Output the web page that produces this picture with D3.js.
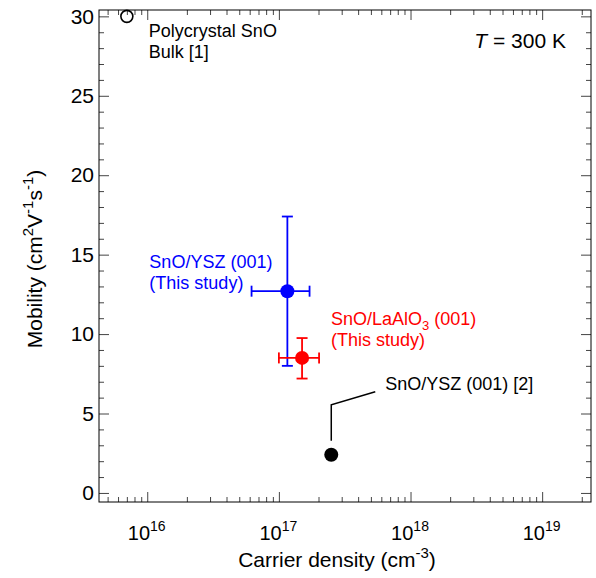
<!DOCTYPE html>
<html>
<head>
<meta charset="utf-8">
<script src="https://cdn.jsdelivr.net/npm/d3@7"></script>
<style>
  body { margin: 0; background: #fff; }
  text { font-family: "Liberation Sans", Arial, sans-serif; }
</style>
</head>
<body>
<div id="chart"></div>
<script>
// data
var samples = ["Polycrystal SnO Bulk [1]", "SnO/YSZ (001) (This study)", "SnO/LaAlO3 (001) (This study)", "SnO/YSZ (001) [2]"];
var density = [7e15, 1.16e17, 1.5e17, 2.5e17];
var mobility = [30, 12.7, 8.5, 2.4];
var densityLo = [null, 6.2e16, 1.0e17, null];
var densityHi = [null, 1.71e17, 2.02e17, null];
var mobilityLo = [null, 8.0, 7.2, null];
var mobilityHi = [null, 17.4, 9.75, null];
var colors = ["#000", "#0000ff", "#ff0000", "#000"];
var filled = [false, true, true, true];

var xMajor = [1e16, 1e17, 1e18, 1e19];
var xExp = ["16", "17", "18", "19"];
var yMajor = [0, 5, 10, 15, 20, 25, 30];

var width = 596, height = 578;
var margin = {top: 10, right: 5, bottom: 76, left: 99};

var svg = d3.select("#chart").append("svg")
	.attr("width", width)
	.attr("height", height);

var x = d3.scaleLog()
	.domain([4.3e15, 2.35e19])
	.range([margin.left, width - margin.right]);

var y = d3.scaleLinear()
	.domain([-0.57, 30.4])
	.range([height - margin.bottom, margin.top]);

// minor ticks
var xMinor = [];
[1e15, 1e16, 1e17, 1e18, 1e19].forEach(function (d) {
	for (var k = 2; k <= 9; k++) {
		var v = d * k;
		if (v > x.domain()[0] && v < x.domain()[1]) xMinor.push(v);
	}
});
var yMinor = d3.range(0, 31).filter(d => d % 5 != 0);

var tickColor = "#444";

function styleAxis(g) {
	g.select(".domain").remove();
	g.selectAll(".tick line").attr("stroke", tickColor);
}

var x0 = height - margin.bottom, x1 = margin.top;

// bottom axis
svg.append("g")
	.attr("transform", "translate(0," + x0 + ")")
	.call(d3.axisBottom(x).tickValues(xMinor).tickSize(-5).tickFormat(""))
	.call(styleAxis);

var xAxisG = svg.append("g")
	.attr("transform", "translate(0," + x0 + ")")
	.call(d3.axisBottom(x).tickValues(xMajor).tickSize(-10).tickPadding(24).tickFormat(""))
	.call(styleAxis);

xAxisG.selectAll(".tick text")
	.attr("font-size", 20)
	.attr("fill", "#000")
	.attr("dx", "-1")
	.each(function (d, i) {
		var t = d3.select(this);
		t.append("tspan").text("10");
		t.append("tspan").attr("font-size", 14).attr("dy", "-9").text(xExp[i]);
	});

// top axis
svg.append("g")
	.attr("transform", "translate(0," + x1 + ")")
	.call(d3.axisTop(x).tickValues(xMinor).tickSize(-5).tickFormat(""))
	.call(styleAxis);
svg.append("g")
	.attr("transform", "translate(0," + x1 + ")")
	.call(d3.axisTop(x).tickValues(xMajor).tickSize(-10).tickFormat(""))
	.call(styleAxis);

// left axis
svg.append("g")
	.attr("transform", "translate(" + margin.left + ",0)")
	.call(d3.axisLeft(y).tickValues(yMinor).tickSize(-5).tickFormat(""))
	.call(styleAxis);
svg.append("g")
	.attr("transform", "translate(" + margin.left + ",0)")
	.call(d3.axisLeft(y).tickValues(yMajor).tickSize(-10).tickPadding(5).tickFormat(d3.format("d")))
	.call(styleAxis)
	.call(g => g.selectAll(".tick text").attr("font-size", 21).attr("fill", "#000"));

// right axis
svg.append("g")
	.attr("transform", "translate(" + (width - margin.right) + ",0)")
	.call(d3.axisRight(y).tickValues(yMinor).tickSize(-5).tickFormat(""))
	.call(styleAxis);
svg.append("g")
	.attr("transform", "translate(" + (width - margin.right) + ",0)")
	.call(d3.axisRight(y).tickValues(yMajor).tickSize(-10).tickFormat(""))
	.call(styleAxis);

// frame
svg.append("rect")
	.attr("x", margin.left)
	.attr("y", margin.top)
	.attr("width", width - margin.left - margin.right)
	.attr("height", height - margin.top - margin.bottom)
	.attr("fill", "none")
	.attr("stroke", "#000")
	.attr("stroke-width", 1);

// axis titles
var xt = svg.append("text")
	.attr("x", 337)
	.attr("y", 567)
	.attr("text-anchor", "middle")
	.attr("font-size", 21);
xt.append("tspan").text("Carrier density (cm");
xt.append("tspan").attr("font-size", 15).attr("dy", -9).text("-3");
xt.append("tspan").attr("dy", 9).text(")");

var yt = svg.append("text")
	.attr("transform", "translate(42,259) rotate(-90)")
	.attr("text-anchor", "middle")
	.attr("font-size", 21);
yt.append("tspan").text("Mobility (cm");
yt.append("tspan").attr("font-size", 15).attr("dy", -9).text("2");
yt.append("tspan").attr("dy", 9).text("V");
yt.append("tspan").attr("font-size", 15).attr("dy", -9).text("-1");
yt.append("tspan").attr("dy", 9).text("s");
yt.append("tspan").attr("font-size", 15).attr("dy", -9).text("-1");
yt.append("tspan").attr("dy", 9).text(")");

// error bars
var cap = 5.5;
var eb = svg.append("g").attr("stroke-width", 1.8);
samples.forEach(function (s, i) {
	if (densityLo[i] == null) return;
	var cx = x(density[i]), cy = y(mobility[i]);
	var g = eb.append("g").attr("stroke", colors[i]);
	g.append("line").attr("x1", x(densityLo[i])).attr("x2", x(densityHi[i])).attr("y1", cy).attr("y2", cy);
	g.append("line").attr("x1", x(densityLo[i])).attr("x2", x(densityLo[i])).attr("y1", cy - cap).attr("y2", cy + cap);
	g.append("line").attr("x1", x(densityHi[i])).attr("x2", x(densityHi[i])).attr("y1", cy - cap).attr("y2", cy + cap);
	g.append("line").attr("x1", cx).attr("x2", cx).attr("y1", y(mobilityLo[i])).attr("y2", y(mobilityHi[i]));
	g.append("line").attr("x1", cx - cap).attr("x2", cx + cap).attr("y1", y(mobilityLo[i])).attr("y2", y(mobilityLo[i]));
	g.append("line").attr("x1", cx - cap).attr("x2", cx + cap).attr("y1", y(mobilityHi[i])).attr("y2", y(mobilityHi[i]));
});

// points
svg.append("g")
	.selectAll("circle")
	.data(samples)
	.join("circle")
	.attr("cx", (d, i) => x(density[i]))
	.attr("cy", (d, i) => y(mobility[i]))
	.attr("r", (d, i) => filled[i] ? 7 : 6)
	.attr("fill", (d, i) => filled[i] ? colors[i] : "none")
	.attr("stroke", (d, i) => colors[i])
	.attr("stroke-width", (d, i) => filled[i] ? 0 : 1.6);

// leader line for [2]
var p3 = [x(density[3]), y(mobility[3])];
svg.append("path")
	.attr("d", d3.line()([[p3[0], p3[1] - 14], [p3[0], p3[1] - 50], [p3[0] + 44, p3[1] - 63]]))
	.attr("fill", "none")
	.attr("stroke", "#000")
	.attr("stroke-width", 1.5);

// annotations
function label(i, dx, dy, lines) {
	var px = x(density[i]), py = y(mobility[i]);
	lines.forEach(function (ln, k) {
		var t = svg.append("text")
			.attr("x", px + dx)
			.attr("y", py + dy + k * 21)
			.attr("font-size", 18)
			.attr("fill", colors[i]);
		ln(t);
	});
}

label(0, 22, 21, [
	t => t.text("Polycrystal SnO"),
	t => t.text("Bulk [1]")
]);
label(1, -138, -23, [
	t => t.text("SnO/YSZ (001)"),
	t => t.text("(This study)")
]);
label(2, 29, -33, [
	t => {
		t.append("tspan").text("SnO/LaAlO");
		t.append("tspan").attr("font-size", 13).attr("dy", 5).text("3");
		t.append("tspan").attr("dy", -5).text(" (001)");
	},
	t => t.text("(This study)")
]);
label(3, 54, -65, [
	t => t.text("SnO/YSZ (001) [2]")
]);

// temperature
var tt = svg.append("text")
	.attr("x", 566)
	.attr("y", 48)
	.attr("text-anchor", "end")
	.attr("font-size", 21);
tt.append("tspan").attr("font-style", "italic").text("T");
tt.append("tspan").text(" = 300 K");
</script>
</body>
</html>
